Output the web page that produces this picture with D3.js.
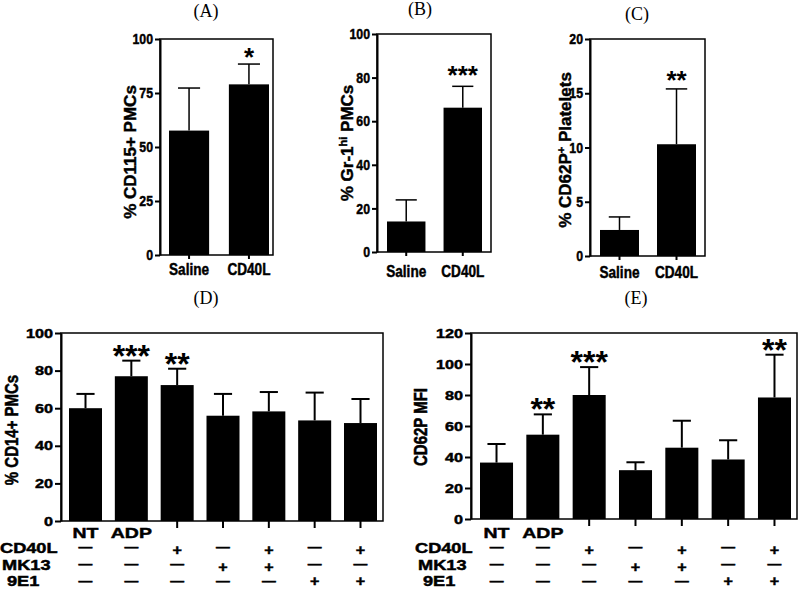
<!DOCTYPE html>
<html lang="en">
<head>
  <meta charset="UTF-8" />
  <title>PMC and CD62P bar panels</title>
  <script src="https://cdn.jsdelivr.net/npm/d3@7"></script>
  <style>
    html, body { margin: 0; padding: 0; background: #fff; }
    svg { display: block; }
    /* the source figure uses a very heavy grotesque, so thicken bold text a bit */
    text.heavy, .tick text { stroke: #000; stroke-width: 0.45px; }
  </style>
</head>
<body>
  <svg id="chart" width="800" height="589"></svg>
  <script>
    // ------ Data ------
    const pairGroups = ["Saline", "CD40L"];

    const cd115Mean  = [57.6, 79.0];
    const cd115Sem   = [19.7, 9.4];
    const cd115Stars = ["", "*"];
    const cd115Ticks = [0, 25, 50, 75, 100];

    const gr1Mean  = [14.0, 66.2];
    const gr1Sem   = [9.9, 9.8];
    const gr1Stars = ["", "***"];
    const gr1Ticks = [0, 20, 40, 60, 80, 100];

    const pltMean  = [2.4, 10.3];
    const pltSem   = [1.2, 5.1];
    const pltStars = ["", "**"];
    const pltTicks = [0, 5, 10, 15, 20];

    const treatGroups = ["g1", "g2", "g3", "g4", "g5", "g6", "g7"];
    const treatLabels = ["NT", "ADP", "", "", "", "", ""];
    const rowNames  = ["CD40L", "MK13", "9E1"];
    const cd40lRow  = ["-", "-", "+", "-", "+", "-", "+"];
    const mk13Row   = ["-", "-", "-", "+", "+", "-", "-"];
    const e9e1Row   = ["-", "-", "-", "-", "-", "+", "+"];

    const cd14Mean  = [60.0, 77.0, 72.3, 56.0, 58.3, 53.5, 52.1];
    const cd14Sem   = [7.6, 8.3, 8.7, 11.6, 10.3, 14.8, 12.8];
    const cd14Stars = ["", "***", "**", "", "", "", ""];
    const cd14Ticks = [0, 20, 40, 60, 80, 100];

    const mfiMean  = [36.4, 54.4, 80.0, 31.5, 46.0, 38.4, 78.4];
    const mfiSem   = [12.0, 13.1, 18.0, 5.1, 17.4, 12.4, 27.6];
    const mfiStars = ["", "**", "***", "", "", "", "**"];
    const mfiTicks = [0, 20, 40, 60, 80, 100, 120];

    const SANS  = "'Liberation Sans', Arial, Helvetica, sans-serif";
    const SERIF = "'Liberation Serif', 'Times New Roman', serif";

    const svg = d3.select("#chart");

    // text that is squeezed / widened horizontally like the source figure
    function stext(g, x, y, str, size, sx, anchor) {
      return g.append("text")
        .attr("class", "heavy")
        .attr("transform", `translate(${x},${y}) scale(${sx},1)`)
        .attr("text-anchor", anchor || "middle")
        .attr("font-family", SANS)
        .attr("font-weight", "bold")
        .attr("font-size", size)
        .text(str);
    }

    function drawPanel(p) {
      const g = svg.append("g");
      const x = d3.scaleBand().domain(p.cats).range(p.band)
                  .paddingInner(p.pad).paddingOuter(0);
      const y = d3.scaleLinear().domain([0, p.max]).range([p.bottom, p.top]);
      const bw = x.bandwidth();
      const cx = i => x(p.cats[i]) + bw / 2;

      // panel letter
      g.append("text")
        .attr("x", p.titleX).attr("y", p.titleY)
        .attr("text-anchor", "middle")
        .attr("font-family", SERIF)
        .attr("font-size", 18)
        .text(p.title);

      // frame box
      g.append("rect")
        .attr("x", p.left).attr("y", p.top)
        .attr("width", p.right - p.left).attr("height", p.bottom - p.top)
        .attr("fill", "none").attr("stroke", "#000").attr("stroke-width", 1.5);

      // bars
      g.selectAll("rect.bar").data(p.mean).join("rect")
        .attr("class", "bar")
        .attr("x", (d, i) => x(p.cats[i]))
        .attr("y", d => y(d))
        .attr("width", bw)
        .attr("height", d => y(0) - y(d))
        .attr("fill", "#000");

      // upper error bars
      const cw = bw * 0.55;
      p.mean.forEach((m, i) => {
        const top = y(m + p.sem[i]);
        g.append("line")
          .attr("x1", cx(i)).attr("x2", cx(i))
          .attr("y1", y(m)).attr("y2", top)
          .attr("stroke", "#000").attr("stroke-width", p.errW);
        g.append("line")
          .attr("x1", cx(i) - cw / 2).attr("x2", cx(i) + cw / 2)
          .attr("y1", top).attr("y2", top)
          .attr("stroke", "#000").attr("stroke-width", p.errW);
        if (p.stars[i]) {
          g.append("text")
            .attr("x", cx(i)).attr("y", top + p.starDy)
            .attr("text-anchor", "middle")
            .attr("font-family", SANS).attr("font-weight", "bold")
            .attr("font-size", p.starSize)
            .text(p.stars[i]);
        }
      });

      // y axis
      const ax = g.append("g")
        .attr("transform", `translate(${p.left},0)`)
        .call(d3.axisLeft(y).tickValues(p.ticks).tickSize(p.tick).tickSizeOuter(0));
      ax.attr("font-family", SANS).attr("font-size", p.tickSize);
      ax.select(".domain").attr("stroke-width", 2);
      ax.selectAll(".tick line").attr("stroke-width", 2);
      ax.selectAll(".tick text")
        .attr("font-weight", "bold")
        .attr("x", -(p.tick + p.gap) / p.sx)
        .attr("transform", `scale(${p.sx},1)`);

      // x ticks
      p.cats.forEach((c, i) => {
        if (!p.xTick[i]) return;
        g.append("line")
          .attr("x1", cx(i)).attr("x2", cx(i))
          .attr("y1", p.bottom).attr("y2", p.bottom + p.xTickLen)
          .attr("stroke", "#000").attr("stroke-width", 2);
      });

      // x labels
      p.labels.forEach((lab, i) => {
        if (lab) stext(g, cx(i), p.labelY, lab, p.labelSize, p.sx);
      });

      // y title (rotated)
      const yt = g.append("text")
        .attr("class", "heavy")
        .attr("transform", `translate(${p.ytX},${p.ytY}) rotate(-90) scale(1,${p.ytSy})`)
        .attr("text-anchor", "middle")
        .attr("font-family", SANS).attr("font-weight", "bold")
        .attr("font-size", p.ytSize);
      p.ytitle.forEach(seg => {
        const t = yt.append("tspan").text(seg[0]);
        if (seg[1]) t.attr("baseline-shift", "super").attr("font-size", p.ytSize * 0.65);
      });

      // treatment rows
      if (p.rows) {
        p.rows.forEach((row, r) => {
          stext(g, p.rowX[r], p.rowY[r], rowNames[r], 14, p.sx, "start");
          row.forEach((s, i) => {
            if (s === "+") {
              stext(g, cx(i), p.plusY[r], "+", 14, 1.15);
            } else {
              stext(g, cx(i), p.dashY[r], "\u2014", 12, 1.15);
            }
          });
        });
      }
    }

    // ------ Panels ------
    drawPanel({
      title: "(A)", titleX: 206, titleY: 17,
      cats: pairGroups, labels: pairGroups, mean: cd115Mean, sem: cd115Sem, stars: cd115Stars,
      max: 100, ticks: cd115Ticks,
      left: 160, right: 273, top: 39, bottom: 255, band: [169, 269], pad: 0.33,
      tick: 5, gap: 2, tickSize: 14.5, sx: 0.85, errW: 1.5, starSize: 26, starDy: 2,
      xTick: [true, true], xTickLen: 4, labelY: 275, labelSize: 16,
      ytitle: [["% CD115+ PMCs"]], ytX: 136, ytY: 152, ytSize: 17, ytSy: 0.95
    });

    drawPanel({
      title: "(B)", titleX: 420, titleY: 15,
      cats: pairGroups, labels: pairGroups, mean: gr1Mean, sem: gr1Sem, stars: gr1Stars,
      max: 100, ticks: gr1Ticks,
      left: 377, right: 491, top: 34, bottom: 252, band: [387, 482], pad: 0.32,
      tick: 5, gap: 2, tickSize: 14.5, sx: 0.85, errW: 1.5, starSize: 26, starDy: -2,
      xTick: [true, true], xTickLen: 4, labelY: 277, labelSize: 16,
      ytitle: [["% Gr-1"], ["hi", true], [" PMCs"]], ytX: 353, ytY: 143, ytSize: 17, ytSy: 0.95
    });

    drawPanel({
      title: "(C)", titleX: 637, titleY: 20,
      cats: pairGroups, labels: pairGroups, mean: pltMean, sem: pltSem, stars: pltStars,
      max: 20, ticks: pltTicks,
      left: 590, right: 705, top: 39, bottom: 256, band: [600, 696], pad: 0.316,
      tick: 5, gap: 2, tickSize: 14.5, sx: 0.85, errW: 1.5, starSize: 26, starDy: 0,
      xTick: [true, true], xTickLen: 4, labelY: 278, labelSize: 16,
      ytitle: [["% CD62P"], ["+", true], [" Platelets"]], ytX: 571, ytY: 150, ytSize: 17, ytSy: 0.95
    });

    drawPanel({
      title: "(D)", titleX: 206, titleY: 304,
      cats: treatGroups, labels: treatLabels, mean: cd14Mean, sem: cd14Sem, stars: cd14Stars,
      max: 100, ticks: cd14Ticks,
      left: 61, right: 383, top: 333, bottom: 521, band: [69, 377], pad: 0.28,
      tick: 6, gap: 2, tickSize: 12.5, sx: 1.3, errW: 2, starSize: 32, starDy: 6,
      xTick: [false, false, true, true, true, true, true], xTickLen: 7,
      labelY: 538, labelSize: 15,
      ytitle: [["% CD14+ PMCs"]], ytX: 18, ytY: 430, ytSize: 15, ytSy: 1.2,
      rows: [cd40lRow, mk13Row, e9e1Row], rowX: [0, 2, 7], rowY: [553, 570, 586],
      dashY: [551, 568, 585], plusY: [555, 572, 586]
    });

    drawPanel({
      title: "(E)", titleX: 636, titleY: 304,
      cats: treatGroups, labels: treatLabels, mean: mfiMean, sem: mfiSem, stars: mfiStars,
      max: 120, ticks: mfiTicks,
      left: 471, right: 797, top: 333, bottom: 519, band: [480, 791], pad: 0.287,
      tick: 6, gap: 2, tickSize: 12.5, sx: 1.3, errW: 2, starSize: 32, starDy: 6,
      xTick: [false, false, true, true, true, true, true], xTickLen: 7,
      labelY: 538, labelSize: 15,
      ytitle: [["CD62P MFI"]], ytX: 427, ytY: 427, ytSize: 15, ytSy: 1.2,
      rows: [cd40lRow, mk13Row, e9e1Row], rowX: [415, 418, 423], rowY: [553, 570, 586],
      dashY: [551, 568, 585], plusY: [555, 572, 586]
    });
  </script>
</body>
</html>
